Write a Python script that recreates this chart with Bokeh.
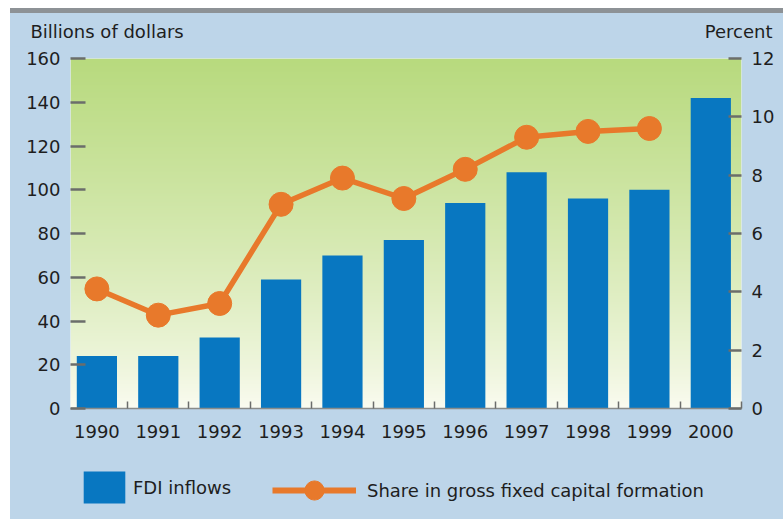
import numpy as np
from bokeh.plotting import figure
from bokeh.models import (Range1d, LinearAxis, FixedTicker, Legend, LegendItem,
                          Label, Div)
from bokeh.layouts import column
from bokeh.embed import file_html
from bokeh.resources import INLINE

# ---- data ----
years = ["1990", "1991", "1992", "1993", "1994", "1995",
         "1996", "1997", "1998", "1999", "2000"]
fdi_inflows = [24, 24, 32.5, 59, 70, 77, 94, 108, 96, 100, 142]      # billions of dollars
share_years = years[:10]
share_gfcf = [4.1, 3.2, 3.6, 7.0, 7.9, 7.2, 8.2, 9.3, 9.5, 9.6]      # percent
left_ticks = [0, 20, 40, 60, 80, 100, 120, 140, 160]
right_ticks = [0, 2, 4, 6, 8, 10, 12]

idx = list(range(len(years)))
share_idx = [years.index(y) for y in share_years]

FONT = "DejaVu Sans"
TXT = "#1e1e1e"
BG = "#BDD5E9"
BLUE = "#0877C1"
ORANGE = "#E8792B"
TICK = "#6b6d6b"
W = 773

X0, X1 = -0.43, 10.5
NAN = float("nan")


def blank_fig(height):
    # ranges equal to the canvas size in pixels, so annotations can be placed in px
    f = figure(width=W, height=height, x_range=Range1d(0, W), y_range=Range1d(0, height),
               x_axis_type=None, y_axis_type=None, output_backend="svg", title=None,
               toolbar_location=None, min_border=0, border_fill_color=BG,
               background_fill_color=None, outline_line_color=None, margin=0,
               frame_align=False)
    f.xgrid.visible = False
    f.ygrid.visible = False
    return f


# ---- header with axis titles ----
head = blank_fig(33)
head.add_layout(Label(x=20, y=15, text="Billions of dollars", text_font=FONT,
                      text_font_size="18px", text_color=TXT,
                      text_baseline="middle", text_align="left"))
head.add_layout(Label(x=762, y=15, text="Percent", text_font=FONT,
                      text_font_size="18px", text_color=TXT,
                      text_baseline="middle", text_align="right"))

# ---- main chart ----
p = figure(width=W, height=409, x_range=Range1d(X0, X1), y_range=Range1d(0, 160),
           output_backend="svg", toolbar_location=None, title=None,
           min_border_left=60, min_border_right=42, min_border_top=12,
           min_border_bottom=47, border_fill_color=BG, outline_line_color=None,
           margin=0, frame_align=False)
p.extra_y_ranges = {"pct": Range1d(0, 12)}
p.xgrid.visible = False
p.ygrid.visible = False

# gradient background of plot area (green top -> near white bottom)
n = 350
top_c = np.array([184, 218, 126], dtype=float)
bot_c = np.array([251, 252, 242], dtype=float)
h = np.linspace(0, 1, n) ** 0.8
cols = bot_c[None, :] + (top_c - bot_c)[None, :] * h[:, None]
img = np.empty((n, 1), dtype=np.uint32)
view = img.view(dtype=np.uint8).reshape((n, 1, 4))
view[:, 0, 0] = cols[:, 0].astype(np.uint8)
view[:, 0, 1] = cols[:, 1].astype(np.uint8)
view[:, 0, 2] = cols[:, 2].astype(np.uint8)
view[:, 0, 3] = 255
p.image_rgba(image=[img], x=X0, y=0, dw=X1 - X0, dh=160)

bars = p.vbar(x=idx, top=fdi_inflows, width=0.655, fill_color=BLUE, line_color=None)
line_r = p.line(x=share_idx, y=share_gfcf, y_range_name="pct", line_width=5.5,
                line_color=ORANGE)
dots = p.scatter(x=share_idx, y=share_gfcf, y_range_name="pct", size=24,
                 fill_color=ORANGE, line_color=ORANGE)

# ---- axes ----
xa = p.xaxis[0]
xa.ticker = FixedTicker(ticks=idx, minor_ticks=[i - 0.5 for i in idx] + [idx[-1] + 0.5])
xa.major_label_overrides = {i: y for i, y in zip(idx, years)}
xa.major_tick_in = 0
xa.major_tick_out = 0
xa.minor_tick_in = 7
xa.minor_tick_out = 0
xa.minor_tick_line_color = TICK
xa.minor_tick_line_width = 1.5
xa.axis_line_color = "#8a8c8a"
xa.axis_line_width = 1.5
xa.major_label_standoff = 16

ya = p.yaxis[0]
ya.ticker = FixedTicker(ticks=left_ticks)
ya.axis_line_color = None
ya.major_tick_in = 15
ya.major_tick_out = 0
ya.major_tick_line_color = TICK
ya.major_tick_line_width = 2.5
ya.minor_tick_line_color = None
ya.major_label_standoff = 10

ra = LinearAxis(y_range_name="pct", ticker=FixedTicker(ticks=right_ticks))
ra.axis_line_color = None
ra.major_tick_in = 13
ra.major_tick_out = 0
ra.major_tick_line_color = TICK
ra.major_tick_line_width = 2.5
ra.minor_tick_line_color = None
ra.major_label_standoff = 10
p.add_layout(ra, "right")

for ax in (xa, ya, ra):
    ax.major_label_text_font = FONT
    ax.major_label_text_font_size = "18px"
    ax.major_label_text_color = TXT

# ---- legend strip (proxy glyphs carry no data, only the styles) ----
lg = blank_fig(64)
bar_proxy = lg.vbar(x=[NAN], top=[NAN], width=0.5, fill_color=BLUE, line_color=None)
line_proxy = lg.line(x=[NAN], y=[NAN], line_width=6, line_color=ORANGE)
dot_proxy = lg.scatter(x=[NAN], y=[NAN], size=20, fill_color=ORANGE, line_color=ORANGE)
common = dict(padding=0, margin=0, spacing=0, border_line_color=None,
              background_fill_alpha=0, label_text_font=FONT,
              label_text_font_size="18px", label_text_color=TXT)
leg1 = Legend(items=[LegendItem(label="FDI inflows", renderers=[bar_proxy])],
              location=(68, 12), glyph_width=52, glyph_height=40, label_standoff=3,
              **common)
leg2 = Legend(items=[LegendItem(label="Share in gross fixed capital formation",
                                renderers=[line_proxy, dot_proxy])],
              location=(262, 5), glyph_width=84, glyph_height=48, label_standoff=11,
              **common)
lg.add_layout(leg1)
lg.add_layout(leg2)

bar_top = Div(width=W, height=5, margin=0, styles={"background-color": "#8D9296"})
layout = column(bar_top, head, p, lg, spacing=0, margin=(8, 0, 0, 10),
                styles={"background-color": BG})

open("out.html", "w").write(file_html(layout, INLINE))
